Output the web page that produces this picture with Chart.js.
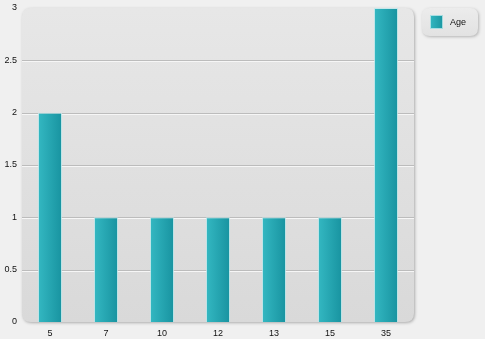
<!DOCTYPE html>
<html>
<head>
<meta charset="utf-8">
<script src="https://cdn.jsdelivr.net/npm/chart.js@4/dist/chart.umd.min.js"></script>
<style>
  html, body { margin:0; padding:0; background:#f0f0f0; }
  #wrap { width:485px; height:339px; }
</style>
</head>
<body>
<div id="wrap"><canvas id="ageChart" width="485" height="339"></canvas></div>
<script>
const ages   = ["5","7","10","12","13","15","35"];
const counts = [2, 1, 1, 1, 1, 1, 3];
const yTicks = [0, 0.5, 1, 1.5, 2, 2.5, 3];
const seriesName = "Age";

const FONT = "'Liberation Sans', Arial, sans-serif";
const BAR_PCT = 0.43;

function roundRect(ctx, x, y, w, h, r) {
  ctx.beginPath();
  ctx.moveTo(x + r, y);
  ctx.lineTo(x + w - r, y);
  ctx.quadraticCurveTo(x + w, y, x + w, y + r);
  ctx.lineTo(x + w, y + h - r);
  ctx.quadraticCurveTo(x + w, y + h, x + w - r, y + h);
  ctx.lineTo(x + r, y + h);
  ctx.quadraticCurveTo(x, y + h, x, y + h - r);
  ctx.lineTo(x, y + r);
  ctx.quadraticCurveTo(x, y, x + r, y);
  ctx.closePath();
}

// rounded grey plot panel + embossed grid lines
const panel = {
  id: "panel",
  beforeDatasetsDraw(chart) {
    const { ctx, chartArea: a, scales } = chart;
    ctx.save();
    ctx.shadowColor = "rgba(0,0,0,0.28)";
    ctx.shadowBlur = 3;
    ctx.shadowOffsetX = 1;
    ctx.shadowOffsetY = 1;
    const g = ctx.createLinearGradient(0, a.top, 0, a.bottom);
    g.addColorStop(0, "#e7e7e7");
    g.addColorStop(1, "#d9d9d9");
    ctx.fillStyle = g;
    roundRect(ctx, a.left, a.top, a.right - a.left, a.bottom - a.top, 9);
    ctx.fill();
    ctx.restore();

    ctx.save();
    ctx.lineWidth = 1;
    scales.y.ticks.forEach(t => {
      if (t.value === 0 || t.value === 3) return;
      const y = Math.round(scales.y.getPixelForValue(t.value)) + 0.5;
      ctx.strokeStyle = "#bcbcbc";
      ctx.beginPath(); ctx.moveTo(a.left, y); ctx.lineTo(a.right, y); ctx.stroke();
      ctx.strokeStyle = "#f6f6f6";
      ctx.beginPath(); ctx.moveTo(a.left, y + 1); ctx.lineTo(a.right, y + 1); ctx.stroke();
    });
    ctx.restore();
  }
};

// boxed legend on the right
const boxLegend = {
  id: "boxLegend",
  afterDraw(chart) {
    const { ctx } = chart;
    const x = 422, y = 8, w = 56, h = 28;
    ctx.save();
    ctx.shadowColor = "rgba(0,0,0,0.25)";
    ctx.shadowBlur = 3;
    ctx.shadowOffsetX = 1;
    ctx.shadowOffsetY = 1;
    const g = ctx.createLinearGradient(0, y, 0, y + h);
    g.addColorStop(0, "#ececec");
    g.addColorStop(1, "#e2e2e2");
    ctx.fillStyle = g;
    roundRect(ctx, x, y, w, h, 8);
    ctx.fill();
    ctx.restore();

    ctx.save();
    const sg = ctx.createLinearGradient(430, 0, 443, 0);
    sg.addColorStop(0, "#33b7c1");
    sg.addColorStop(1, "#1a96a1");
    ctx.fillStyle = sg;
    ctx.fillRect(430, 15, 13, 14);
    ctx.strokeStyle = "rgba(200,235,238,0.8)";
    ctx.strokeRect(430.5, 15.5, 12, 13);
    ctx.fillStyle = "#111";
    ctx.font = "9px " + FONT;
    ctx.textBaseline = "middle";
    ctx.fillText(chart.data.datasets[0].label, 450, 23);
    ctx.restore();
  }
};

function barGradient(c) {
  const xs = c.chart.scales.x;
  if (!xs || c.dataIndex === undefined) return "#24a8b2";
  const cx = xs.getPixelForValue(c.dataIndex);
  const w = xs.width / ages.length * BAR_PCT;
  if (!isFinite(cx) || !isFinite(w) || w <= 0) return "#24a8b2";
  const g = c.chart.ctx.createLinearGradient(cx - w / 2, 0, cx + w / 2, 0);
  g.addColorStop(0, "#34b8c2");
  g.addColorStop(1, "#1893a0");
  return g;
}

new Chart(document.getElementById("ageChart"), {
  type: "bar",
  data: {
    labels: ages,
    datasets: [{
      label: seriesName,
      data: counts,
      backgroundColor: barGradient,
      borderColor: "rgba(190,232,235,0.85)",
      borderWidth: 1,
      borderSkipped: "bottom",
      barPercentage: BAR_PCT,
      categoryPercentage: 1
    }]
  },
  options: {
    responsive: false,
    animation: false,
    layout: { padding: { top: 8, right: 71, bottom: 0, left: 0 } },
    plugins: { legend: { display: false }, tooltip: { enabled: false } },
    scales: {
      x: {
        grid: { display: false, drawTicks: false },
        border: { display: false },
        ticks: { color: "#111", font: { size: 9, family: FONT }, padding: 6, maxRotation: 0 },
        afterFit: s => { s.height = 17; s.paddingLeft = 0; s.paddingRight = 0; }
      },
      y: {
        min: 0, max: 3,
        afterBuildTicks: s => { s.ticks = yTicks.map(v => ({ value: v })); },
        grid: { display: false, drawTicks: false },
        border: { display: false },
        ticks: { color: "#111", font: { size: 9, family: FONT }, padding: 5, callback: v => String(v) },
        afterFit: s => { s.width = 22; s.paddingTop = 0; s.paddingBottom = 0; }
      }
    }
  },
  plugins: [panel, boxLegend]
});
</script>
</body>
</html>
